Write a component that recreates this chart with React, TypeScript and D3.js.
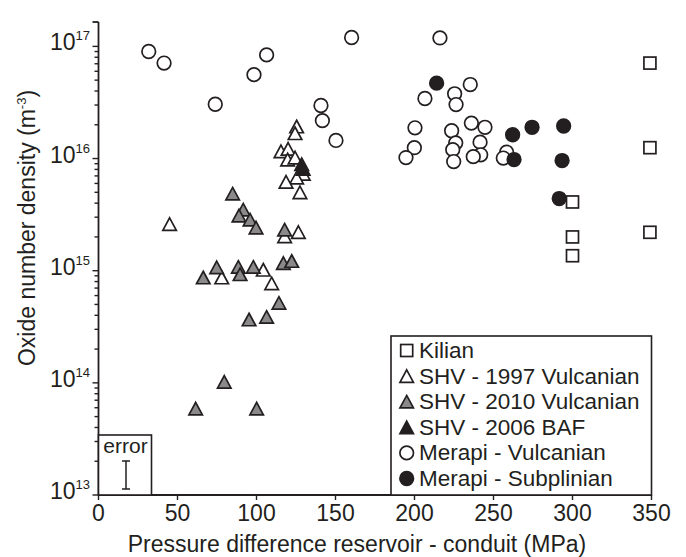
import React from "react";
import * as d3 from "d3";

const kilian: [number, number][] = [
  [300, 4.1e15], [300, 2.0e15], [300, 1.36e15],
  [349, 7.1e16], [349, 1.25e16], [349, 2.2e15],
];

const shv1997: [number, number][] = [
  [45, 2.6e15], [125.4, 1.93e16], [124.4, 1.68e16], [115.5, 1.16e16],
  [120, 1.22e16], [119.7, 9.8e15], [124.4, 1.02e16], [129.6, 7.3e15],
  [125.4, 6.75e15], [118.7, 6.2e15], [127.5, 5.0e15], [117.8, 2.02e15],
  [126.5, 2.21e15], [78, 8.7e14], [104.3, 1.02e15], [109.6, 7.7e14],
];

const shv2010: [number, number][] = [
  [84.9, 4.86e15], [91.6, 3.5e15], [88.9, 3.1e15], [95.9, 2.85e15],
  [99.7, 2.42e15], [117.8, 2.32e15], [74.8, 1.07e15], [66.3, 8.7e14],
  [88.5, 1.08e15], [89.6, 9.3e14], [98, 1.08e15], [117, 1.17e15],
  [122.3, 1.22e15], [114.2, 5.16e14], [95.3, 3.67e14], [106.4, 3.87e14],
  [79.6, 1.02e14], [61.5, 5.9e13], [100.1, 5.9e13],
];

const shv2006: [number, number][] = [
  [128.6, 8.9e15], [129.5, 8.1e15],
];

const merapiVulcanian: [number, number][] = [
  [31.8, 9.0e16], [41.5, 7.1e16], [73.9, 3.05e16], [98.4, 5.6e16],
  [106.4, 8.4e16], [160.2, 1.2e17], [140.8, 2.97e16], [141.7, 2.18e16],
  [150.3, 1.45e16], [216.1, 1.19e17], [206.6, 3.43e16], [225.4, 3.78e16],
  [226.3, 3.03e16], [235.3, 4.57e16], [200.3, 1.88e16], [199.9, 1.25e16],
  [194.6, 1.02e16], [223.5, 1.77e16], [226.1, 1.38e16], [224.2, 1.2e16],
  [224.8, 9.4e15], [236, 2.07e16], [244.6, 1.9e16], [241.5, 1.4e16],
  [241.9, 1.08e16], [237.2, 1.04e16], [258.3, 1.14e16], [256.2, 1.01e16],
];

const merapiSubplinian: [number, number][] = [
  [214, 4.7e16], [262.1, 1.63e16], [263, 9.8e15], [274.4, 1.9e16],
  [294.4, 1.95e16], [293.4, 9.6e15], [291.6, 4.4e15],
];

const xTicks = [0, 50, 100, 150, 200, 250, 300, 350];
const yMajorExps = [13, 14, 15, 16, 17];
const legendLabels = [
  "Kilian",
  "SHV - 1997 Vulcanian",
  "SHV - 2010 Vulcanian",
  "SHV - 2006 BAF",
  "Merapi - Vulcanian",
  "Merapi - Subplinian",
];
const xTitle = "Pressure difference reservoir - conduit (MPa)";

const INK = "#231f20";
const GRAY = "#8a8a8a";
const FONT = "'Liberation Sans', Arial, Helvetica, sans-serif";

type Shape = "square" | "triangle" | "circle";

function Marker({ shape, fill, cx, cy }: { shape: Shape; fill: string; cx: number; cy: number }) {
  if (shape === "square") {
    return <rect x={cx - 6} y={cy - 6} width={12} height={12} fill={fill} stroke={INK} strokeWidth={1.7} />;
  }
  if (shape === "circle") {
    return <circle cx={cx} cy={cy} r={6.8} fill={fill} stroke={INK} strokeWidth={1.7} />;
  }
  const w = 13.5, h = 12.5;
  const p = d3.path();
  p.moveTo(cx, cy - h / 2);
  p.lineTo(cx + w / 2, cy + h / 2);
  p.lineTo(cx - w / 2, cy + h / 2);
  p.closePath();
  return <path d={p.toString()} fill={fill} stroke={INK} strokeWidth={1.7} strokeLinejoin="miter" />;
}

export default function App() {
  const x = d3.scaleLinear().domain([0, 350]).range([98.5, 651.5]);
  const y = d3.scaleLog().domain([1e13, 1.65e17]).range([495, 22]);

  const series: { data: [number, number][]; shape: Shape; fill: string }[] = [
    { data: shv1997, shape: "triangle", fill: "#ffffff" },
    { data: shv2010, shape: "triangle", fill: GRAY },
    { data: shv2006, shape: "triangle", fill: INK },
    { data: merapiVulcanian, shape: "circle", fill: "#ffffff" },
    { data: merapiSubplinian, shape: "circle", fill: INK },
    { data: kilian, shape: "square", fill: "#ffffff" },
  ];
  const legendSeries: { shape: Shape; fill: string }[] = [
    { shape: "square", fill: "#ffffff" },
    { shape: "triangle", fill: "#ffffff" },
    { shape: "triangle", fill: GRAY },
    { shape: "triangle", fill: INK },
    { shape: "circle", fill: "#ffffff" },
    { shape: "circle", fill: INK },
  ];

  const yTicks = y.ticks();
  const [yTop] = y.range().slice(-1);
  const x0 = x(0), yBase = y(1e13);

  return (
    <svg width={686} height={557} style={{ position: "absolute", left: 0, top: 0, background: "#fff" }} fontFamily={FONT}>
      <rect width={686} height={557} fill="#fff" />
      {/* y-axis */}
      <line x1={x0} x2={x0} y1={yTop} y2={yBase} stroke={INK} strokeWidth={1.8} />
      <line x1={x0 - 6} x2={x0} y1={yTop} y2={yTop} stroke={INK} strokeWidth={1.8} />
      {yTicks.map((t, i) => {
        const major = Math.abs(Math.log10(t) - Math.round(Math.log10(t))) < 1e-9;
        return (
          <line key={i} x1={x0 - (major ? 6 : 4)} x2={x0} y1={y(t)} y2={y(t)} stroke={INK} strokeWidth={1.4} />
        );
      })}
      {yMajorExps.map((e) => (
        <text key={e} x={90} y={y(Math.pow(10, e)) + 4} textAnchor="end" fontSize={23} fill={INK}>
          10<tspan dy={-10} fontSize={13}>{e}</tspan>
        </text>
      ))}
      <text transform={`translate(35,228) rotate(-90)`} textAnchor="middle" fontSize={23} fill={INK}>
        Oxide number density (m<tspan dy={-9} fontSize={13}>-3</tspan><tspan dy={9}>)</tspan>
      </text>

      {/* x-axis */}
      <line x1={x0} x2={x(350)} y1={yBase} y2={yBase} stroke={INK} strokeWidth={1.8} />
      {xTicks.map((t) => (
        <g key={t}>
          <line x1={x(t)} x2={x(t)} y1={yBase} y2={yBase + 5} stroke={INK} strokeWidth={1.4} />
          <text x={x(t)} y={521} textAnchor="middle" fontSize={23} fill={INK}>{t}</text>
        </g>
      ))}
      <text x={357} y={552} textAnchor="middle" fontSize={23} fill={INK}>{xTitle}</text>

      {/* data */}
      {series.map((s, si) => (
        <g key={si}>
          {s.data.map(([vx, vy], i) => (
            <Marker key={i} shape={s.shape} fill={s.fill} cx={x(vx)} cy={y(vy)} />
          ))}
        </g>
      ))}

      {/* error box */}
      <rect x={x0} y={435} width={53} height={yBase - 435} fill="#fff" stroke={INK} strokeWidth={1.6} />
      <text x={125.5} y={453} textAnchor="middle" fontSize={21} fill={INK}>error</text>
      <line x1={126} x2={126} y1={461} y2={489} stroke={INK} strokeWidth={1.5} />
      <line x1={122} x2={130} y1={461} y2={461} stroke={INK} strokeWidth={1.5} />
      <line x1={122} x2={130} y1={489} y2={489} stroke={INK} strokeWidth={1.5} />

      {/* legend */}
      <rect x={391} y={336} width={x(350) - 391} height={yBase - 336} fill="#fff" stroke={INK} strokeWidth={1.6} />
      {legendLabels.map((lab, i) => {
        const base = 358 + i * 25.6;
        return (
          <g key={lab}>
            <Marker shape={legendSeries[i].shape} fill={legendSeries[i].fill} cx={406.7} cy={base - 7.5} />
            <text x={419} y={base} fontSize={22.5} fill={INK}>{lab}</text>
          </g>
        );
      })}
    </svg>
  );
}
